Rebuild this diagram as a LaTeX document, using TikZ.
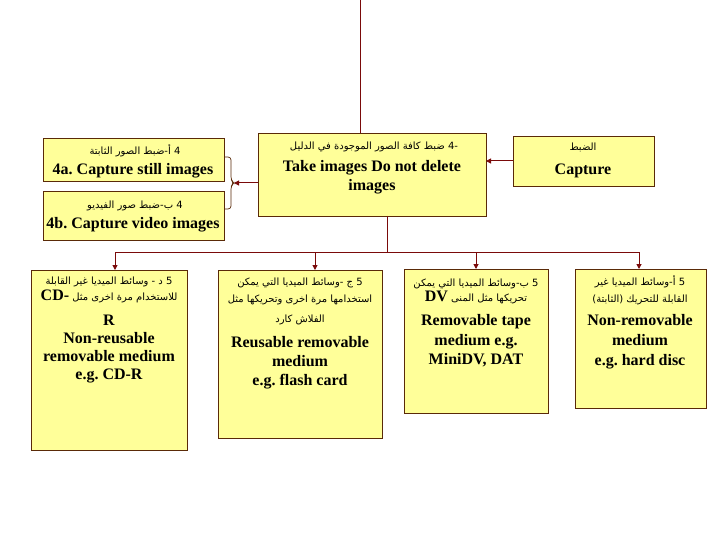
\documentclass[tikz,border=0pt]{standalone}
\usepackage{fontspec}
\setmainfont{Liberation Serif}
\newfontfamily\arabicfont[Script=Arabic]{DejaVu Sans}
\TeXXeTstate=1
\frenchspacing
\usetikzlibrary{arrows.meta}
\definecolor{boxfill}{HTML}{FFFF99}
\definecolor{boxline}{HTML}{5A2A08}
\definecolor{linkred}{HTML}{7A0A0A}
\newcommand\EN{\rmfamily\fontsize{16}{18}\selectfont\bfseries}
\newcommand\AR{\arabicfont\fontsize{10}{12}\selectfont}
\tikzset{
  box/.style={draw=boxline, fill=boxfill, line width=0.8pt, anchor=north west, inner sep=0pt, outer sep=0pt},
  en/.style={font=\EN, anchor=mid, inner sep=0pt, yshift=-3pt},
  ar/.style={font=\AR, anchor=mid, inner sep=0pt},
  link/.style={draw=linkred, line width=1pt},
  arr/.style={link, -{Triangle[length=5pt,width=5pt]}},
  bracestyle/.style={draw=boxline, line width=0.7pt, rounded corners=3pt}
}
\begin{document}
\begin{tikzpicture}[x=1pt,y=-1pt]
\useasboundingbox (0,0) rectangle (720,540);
\fill[white] (0,0) rectangle (720,540);

% top row boxes
\node[box, minimum width=228, minimum height=83] (take) at (258,133) {};
\node[box, minimum width=141, minimum height=50] (capture) at (513,136) {};
\node[box, minimum width=181, minimum height=43] (still) at (43,138) {};
\node[box, minimum width=181, minimum height=49] (video) at (43,191) {};

% bottom row boxes
\node[box, minimum width=156, minimum height=180] (b1) at (31,270) {};
\node[box, minimum width=164, minimum height=168] (b2) at (218,270) {};
\node[box, minimum width=144, minimum height=144] (b3) at (404,269) {};
\node[box, minimum width=131, minimum height=139] (b4) at (575,269) {};

% texts top row
\node[ar] (taket1) at (374,147) {\beginR\mbox{-4} ضبط كافة الصور الموجودة في الدليل\endR};
\node[en] (taket2) at (372,166) {Take images Do not delete};
\node[en] (taket3) at (372,185) {images};
\node[ar] (capt1) at (583,148) {\beginR الضبط\endR};
\node[en] (capt2) at (583,169) {Capture};
\node[ar] (stillt1) at (135,152) {\beginR 4 \mbox{أ}-\mbox{ضبط} الصور الثابتة\endR};
\node[en] (stillt2) at (133,169) {4a. Capture still images};
\node[ar] (videot1) at (135,206) {\beginR 4 \mbox{ب}-\mbox{ضبط} صور الفيديو\endR};
\node[en] (videot2) at (133,223) {4b. Capture video images};

% texts bottom row
\node[ar] (b1t1) at (109,282) {\beginR 5 د - وسائط الميديا غير القابلة\endR};
\node[ar] (b1t2) at (109,298) {\beginR للاستخدام مرة اخرى مثل {\EN CD-}\endR};
\node[en] (b1t3) at (109,320) {R};
\node[en] (b1t4) at (109,338) {Non-reusable};
\node[en] (b1t5) at (109,356) {removable medium};
\node[en] (b1t6) at (109,374) {e.g. CD-R};

\node[ar] (b2t1) at (300,283) {\beginR 5 ج -\mbox{وسائط} الميديا التي يمكن\endR};
\node[ar] (b2t2) at (300,300) {\beginR استخدامها مرة اخرى وتحريكها مثل\endR};
\node[ar] (b2t3) at (300,320) {\beginR الفلاش كارد\endR};
\node[en] (b2t4) at (300,342) {Reusable removable};
\node[en] (b2t5) at (300,361) {medium};
\node[en] (b2t6) at (300,380) {e.g. flash card};

\node[ar] (b3t1) at (476,284) {\beginR 5 \mbox{ب}-\mbox{وسائط} الميديا التي يمكن\endR};
\node[ar] (b3t2) at (476,299) {\beginR تحريكها مثل المنى {\EN DV}\endR};
\node[en] (b3t3) at (476,320) {Removable tape};
\node[en] (b3t4) at (476,340) {medium e.g.};
\node[en] (b3t5) at (476,359) {MiniDV, DAT};

\node[ar] (b4t1) at (640,283) {\beginR 5 \mbox{أ}-\mbox{وسائط} الميديا غير\endR};
\node[ar] (b4t2) at (640,300) {\beginR القابلة للتحريك (الثابتة)\endR};
\node[en] (b4t3) at (640,320) {Non-removable};
\node[en] (b4t4) at (640,340) {medium};
\node[en] (b4t5) at (640,360) {e.g. hard disc};

% connectors
\coordinate (topend) at (360,0);
\draw[link] (topend) -- (topend |- take.north);
\draw[arr] (capture.west) -- (capture.west -| take.east);
\coordinate (bracetip) at (234,183);
\draw[arr] (take.west |- bracetip) -- (bracetip);
\draw[bracestyle] (still.east |- 0,157) -- (231,157) -- (231,180) -- (bracetip) -- (231,186) -- (231,209) -- (video.east |- 0,209);

\coordinate (split) at (387,252);
\coordinate (h1) at (115,252);
\coordinate (h2) at (315,252);
\coordinate (h3) at (476,252);
\coordinate (h4) at (639,252);
\draw[link] (take.south -| split) -- (split);
\draw[link] (h1) -- (h4);
\draw[arr] (h1) -- (h1 |- b1.north);
\draw[arr] (h2) -- (h2 |- b2.north);
\draw[arr] (h3) -- (h3 |- b3.north);
\draw[arr] (h4) -- (h4 |- b4.north);
\end{tikzpicture}
\end{document}
